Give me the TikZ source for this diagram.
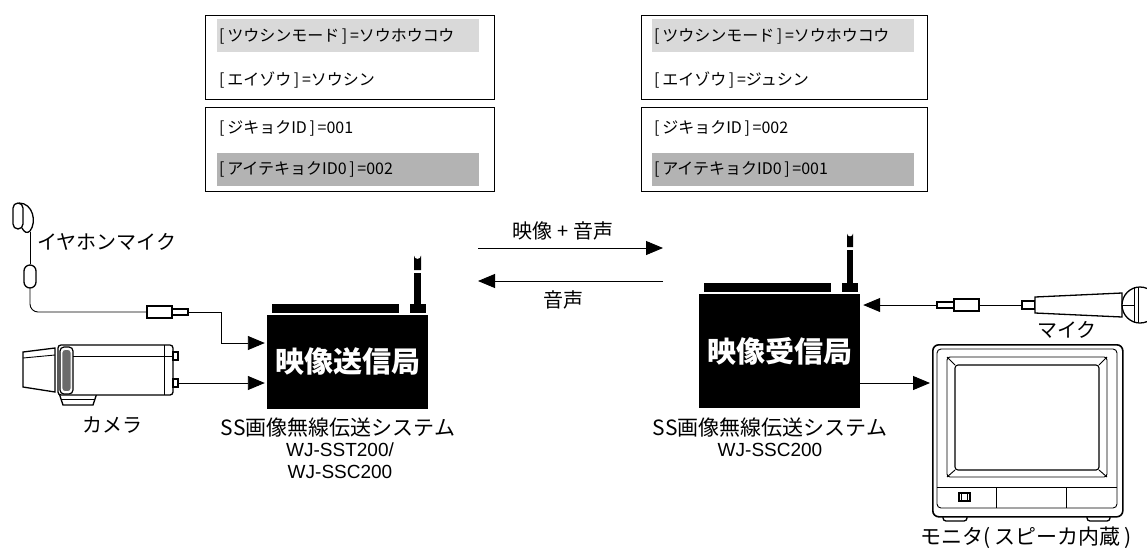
\documentclass[tikz,border=0pt]{standalone}
\usepackage{fontspec}
\newfontfamily\jp{Noto Sans CJK JP}
\newfontfamily\lat{Liberation Sans}
\usetikzlibrary{arrows.meta}
\definecolor{barlight}{HTML}{D9D9D9}
\definecolor{bardark}{HTML}{B3B3B3}
\definecolor{ringgrey}{HTML}{6B6B6B}
\begin{document}
\begin{tikzpicture}[x=1pt,y=-1pt,
  panel/.style={draw, line width=1.2pt, anchor=north west, minimum width=289pt, minimum height=84pt, inner sep=0pt},
  bar/.style={fill=#1, anchor=north west, minimum width=262pt, minimum height=33pt, inner sep=0pt},
  boxtxt/.style={font=\jp\fontsize{16}{18}\selectfont, anchor=west, inner sep=0pt},
  lbl/.style={font=\jp\fontsize{20}{22}\selectfont, inner sep=0pt},
  biglbl/.style={font=\jp\fontsize{21}{22}\selectfont, inner sep=0pt},
  model/.style={font=\lat\fontsize{19}{22}\selectfont, inner sep=0pt},
  station/.style={fill=black, text=white, font=\jp\bfseries\fontsize{29}{32}\selectfont, minimum width=161pt, inner sep=0pt},
  conn/.style={line width=0.9pt, -{Triangle[length=17pt,width=14pt]}, shorten >=2pt},
  wire/.style={line width=0.9pt},
  part/.style={draw, line width=1.3pt, fill=white},
  thin/.style={line width=0.9pt},
  plug/.style={draw, line width=1.3pt, fill=white, inner sep=0pt},
]
\useasboundingbox (0,0) rectangle (1147,550);

% ---------- setting panels ----------
\node[panel] (pl1) at (205,15) {};
\node[bar=barlight] (pl1bar) at (217,19) {};
\node[boxtxt] (pl1a) at (219,36) {[\,ツウシンモード\,]\,=ソウホウコウ};
\node[boxtxt] (pl1b) at (219,80) {[\,エイゾウ\,]\,=ソウシン};
\node[panel] (pl2) at (205,107) {};
\node[bar=bardark] (pl2bar) at (217,153) {};
\node[boxtxt] (pl2a) at (219,128) {[\,ジキョクID\,]\,=001};
\node[boxtxt] (pl2b) at (219,169) {[\,アイテキョクID0\,]\,=002};

\node[panel, minimum width=286pt] (pr1) at (641,15) {};
\node[bar=barlight] (pr1bar) at (652,19) {};
\node[boxtxt] (pr1a) at (654,36) {[\,ツウシンモード\,]\,=ソウホウコウ};
\node[boxtxt] (pr1b) at (654,80) {[\,エイゾウ\,]\,=ジュシン};
\node[panel, minimum width=286pt] (pr2) at (641,107) {};
\node[bar=bardark] (pr2bar) at (652,153) {};
\node[boxtxt] (pr2a) at (654,128) {[\,ジキョクID\,]\,=002};
\node[boxtxt] (pr2b) at (654,169) {[\,アイテキョクID0\,]\,=001};

% ---------- transmitter ----------
\node[station, minimum height=94pt] (tx) at (347.5,362) {映像送信局};
\fill (272,304) rectangle (399,313);
\fill (410,304) rectangle (426,313);
\fill (414,270) -- (414,255.5) arc[start angle=180, end angle=0, radius=3.5] -- (421,270) -- cycle;
\fill (414.3,272.5) rectangle (420.7,304);
\node[biglbl] (txl1) at (338,428) {SS画像無線伝送システム};
\node[model] (txl2) at (340,450) {WJ-SST200/};
\node[model] (txl3) at (340,472) {WJ-SSC200};

% ---------- receiver ----------
\node[station, minimum height=114pt] (rx) at (779.5,351) {映像受信局};
\fill (704,283) rectangle (831,292);
\fill (842,283) rectangle (858,292);
\fill (847,247) -- (847,233.5) arc[start angle=180, end angle=0, radius=3] -- (853,247) -- cycle;
\fill (847.3,249.5) rectangle (852.7,283);
\node[biglbl] (rxl1) at (770,428) {SS画像無線伝送システム};
\node[model] (rxl2) at (770,450) {WJ-SSC200};

% ---------- radio link ----------
\coordinate (lkA1) at (478,248);
\coordinate (lkA2) at (665,248);
\coordinate (lkB1) at (663,281);
\coordinate (lkB2) at (476,281);
\draw[conn] (lkA1) -- (lkA2);
\draw[conn] (lkB1) -- (lkB2);
\node[lbl] (lkAl) at (563,231) {映像 + 音声};
\node[lbl] (lkBl) at (563,300) {音声};

% ---------- earphone microphone ----------
\draw[part, rounded corners=5] (13,203) rectangle (23,229);
\draw[line width=1.3pt] (19,203) .. controls (33,203) and (37,222) .. (30,231)
      .. controls (27,234) and (24,232) .. (22,228);
\coordinate (earbot) at (30,232);
\node[plug, rounded corners=6, minimum width=12pt, minimum height=23pt] (cap) at (30,276.5) {};
\draw[wire] (earbot) -- (cap.north);
\node[plug, minimum width=25pt, minimum height=12pt] (eplugA) at (159.5,312) {};
\node[plug, minimum width=16pt, minimum height=6pt] (eplugB) at (180,312) {};
\draw[wire, rounded corners=8] (cap.south) -- (30,312) -- (eplugA.west);
\node[lbl, anchor=west] (earl) at (37,242) {イヤホンマイク};
\coordinate (bendA) at (221,343);
\draw[conn] (eplugB.east) -| (bendA) -- (tx.west |- bendA);

% ---------- camera ----------
\draw[part] (23,352) -- (55,348) -- (55,392) -- (23,387) -- cycle;
\draw[thin] (23,358) -- (55,355);
\draw[part] (59,393) -- (63,405) -- (93,405) -- (97,393);
\draw[thin] (62,399.5) -- (95,399.5);
\draw[part, rounded corners=3] (58,345) rectangle (173,395);
\draw[line width=1.2pt, fill=white, rounded corners=4] (60,347) rectangle (73,394);
\draw[white, line width=0.8pt, fill=ringgrey, rounded corners=3] (62,349.5) rectangle (71,391.5);
\draw[thin] (73,356) -- (173,356);
\draw[thin] (164,345) -- (164,395);
\node[plug, minimum width=5pt, minimum height=8pt, line width=1.1pt] (camA) at (175.5,356) {};
\node[plug, minimum width=5pt, minimum height=8pt, line width=1.1pt] (camB) at (175.5,383) {};
\node[lbl] (caml) at (112,425) {カメラ};
\draw[conn] (camB.east) -- (tx.west |- camB.east);

% ---------- hand microphone ----------
\node[plug, minimum width=17pt, minimum height=6pt] (mplugA) at (945.5,305) {};
\node[plug, minimum width=25pt, minimum height=12pt] (mplugB) at (966.5,305) {};
\node[plug, minimum width=13pt, minimum height=8pt] (micA) at (1028.5,305) {};
\draw[wire] (mplugB.east) -- (micA.west);
\draw[part] (1035,297) -- (1122,293) -- (1122,317) -- (1035,313) -- cycle;
\draw[part] (1140,305) circle[radius=18];
\draw[thin] (1122,305) -- (1134,305);
\draw[thin] (1134,287) -- (1134,323);
\draw[thin] (1138,287) -- (1138,323);
\node[lbl] (micl) at (1067,330) {マイク};
\draw[conn, shorten >=3pt] (mplugA.west) -- (rx.east |- mplugA.west);

% ---------- monitor ----------
\draw[part, rounded corners=3] (943,512) rectangle (967,521);
\draw[part, rounded corners=3] (1087,512) rectangle (1110,521);
\node[draw, line width=1.6pt, fill=white, rounded corners=6, minimum width=190pt, minimum height=172pt, anchor=north west, inner sep=0pt] (mon) at (932,344) {};
\draw[thin, rounded corners=4] (937,349) rectangle (1117,508);
\draw[thin, rounded corners=3] (947,357) rectangle (1107,477);
\draw[line width=1.1pt, rounded corners=3] (955,365) rectangle (1099,470);
\draw[thin] (947,357) -- (955,365) (1107,357) -- (1099,365)
            (947,477) -- (955,470) (1107,477) -- (1099,470);
\draw[thin] (937,487) -- (1117,487);
\draw[thin] (996,487) -- (996,508) (1066,487) -- (1066,508);
\draw[line width=1.1pt] (959,493) rectangle (970,501);
\draw[line width=0.7pt] (961.5,493) -- (961.5,501) (967.5,493) -- (967.5,501);
\node[biglbl] (monl) at (1026,538) {モニタ(\,スピーカ内蔵\,)};
\coordinate (ym) at (0,383);
\draw[conn] (rx.east |- ym) -- (mon.west |- ym);
\end{tikzpicture}
\end{document}
